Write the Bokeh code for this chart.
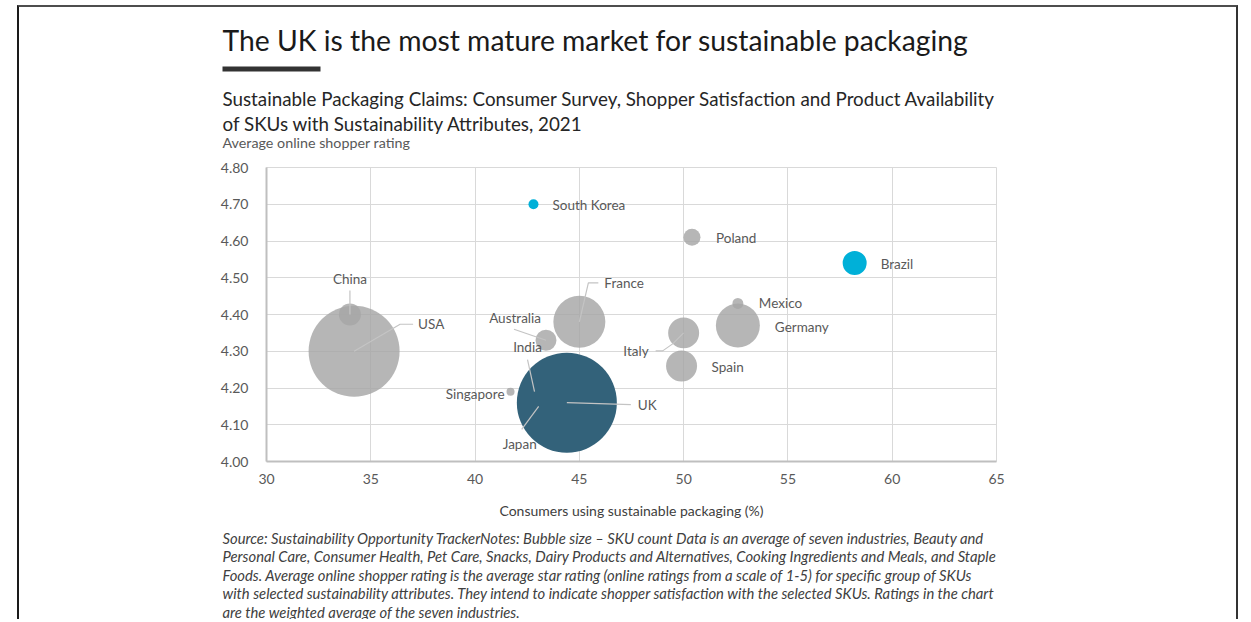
from bokeh.plotting import figure
from bokeh.layouts import column
from bokeh.models import (Label, Range1d, ColumnDataSource, FixedTicker,
                          NumeralTickFormatter, BoxAnnotation)
from bokeh.embed import file_html
from bokeh.resources import INLINE
from bokeh.core.properties import value
import math

# ---------------- data ----------------
countries = ["USA", "China", "France", "Germany", "Mexico", "Italy", "Spain",
             "Australia", "Poland", "Brazil", "South Korea", "Singapore",
             "India", "Japan", "UK"]
consumers_pct = [34.2, 34.0, 45.0, 52.6, 52.6, 50.0, 49.9,
                 43.4, 50.4, 58.2, 42.8, 41.7,
                 42.85, 43.05, 44.4]
shopper_rating = [4.30, 4.40, 4.38, 4.37, 4.43, 4.35, 4.26,
                  4.33, 4.61, 4.54, 4.70, 4.19,
                  4.19, 4.15, 4.16]
sku_count = [2070, 121, 676, 484, 30, 240, 240,
             110, 72, 144, 25, 16,
             60, 60, 2500]
x_ticks = [30, 35, 40, 45, 50, 55, 60, 65]
y_ticks = [4.0, 4.1, 4.2, 4.3, 4.4, 4.5, 4.6, 4.7, 4.8]

title = "The UK is the most mature market for sustainable packaging"
subtitle = ["Sustainable Packaging Claims: Consumer Survey, Shopper Satisfaction and Product Availability",
            "of SKUs with Sustainability Attributes, 2021"]
y_title = "Average online shopper rating"
x_title = "Consumers using sustainable packaging (%)"
notes = [
    "Source: Sustainability Opportunity TrackerNotes: Bubble size \u2013 SKU count Data is an average of seven industries, Beauty and",
    "Personal Care, Consumer Health, Pet Care, Snacks, Dairy Products and Alternatives, Cooking Ingredients and Meals, and Staple",
    "Foods. Average online shopper rating is the average star rating (online ratings from a scale of 1-5) for specific group of SKUs",
    "with selected sustainability attributes. They intend to indicate shopper satisfaction with the selected SKUs. Ratings in the chart",
    "are the weighted average of the seven industries.",
]

# ---------------- styling / layout ----------------
GREY = "#a6a6a6"
TEAL = "#33627a"
CYAN = "#00b0d8"
colour_of = {"UK": TEAL, "Brazil": CYAN, "South Korea": CYAN}
alpha_of = {"UK": 1.0, "Brazil": 1.0, "South Korea": 1.0}

label_style = {
    "USA": (64, -27, "left"), "China": (0, -36, "center"), "France": (25, -39, "left"),
    "Germany": (37, 1, "left"), "Mexico": (21, 0, "left"), "Italy": (-35, 18, "right"),
    "Spain": (30, 1, "left"), "Australia": (-5, -22, "right"), "Poland": (24, 1, "left"),
    "Brazil": (26, 1, "left"), "South Korea": (19, 1, "left"), "Singapore": (-6, 2, "right"),
    "India": (-7, -45, "center"), "Japan": (-19, 38, "center"), "UK": (71, 2, "left"),
}
leaders = {
    "USA": [(0, 0), (46, -27), (59, -27)],
    "China": [(0, 0), (0, -24)],
    "France": [(0, 0), (9, -39), (19, -39)],
    "Australia": [(0, 0), (-32, -11)],
    "Italy": [(0, 0), (-11, 11), (-21, 18), (-28, 18)],
    "India": [(0, 0), (-7, -32)],
    "Japan": [(0, 0), (-17, 23)],
    "UK": [(0, 0), (64, 2)],
}

FRAME_W, FRAME_H = 730, 294
X0, X1 = 30, 65
Y0, Y1 = 4.0, 4.8
px_x = FRAME_W / (X1 - X0)
px_y = FRAME_H / (Y1 - Y0)
W = 1217
CL = 19            # page x of content left
HEAD_T, HEAD_B = 7, 160
CHART_B = 525
FOOT_B = 619

FONT = "Lato"


def text_panel(top, bottom):
    f = figure(width=W, height=bottom - top, output_backend="svg", toolbar_location=None,
               x_range=Range1d(CL, CL + W), y_range=Range1d(bottom, top),
               x_axis_location=None, y_axis_location=None,
               min_border=0, outline_line_color=None, frame_align=False)
    f.grid.visible = False
    return f


def add_text(f, txt, X, Y, size, color, style="normal"):
    f.add_layout(Label(x=X, y=Y, text=txt, text_font=FONT, text_font_size=size,
                       text_color=color, text_font_style=style,
                       text_baseline="middle", text_align="left"))


# ---- header ----
head = text_panel(HEAD_T, HEAD_B)
add_text(head, title, 222, 39, "28.3px", "#1a1a1a")
head.add_layout(BoxAnnotation(left=222, right=320, top=66, bottom=71,
                              fill_color="#333333", fill_alpha=1, line_color=None))
add_text(head, subtitle[0], 222, 98, "18.8px", "#262626")
add_text(head, subtitle[1], 222, 123, "18.8px", "#262626")
add_text(head, y_title, 222, 142, "14.3px", "#595959")

# ---- chart ----
p = figure(width=W, height=CHART_B - HEAD_B, output_backend="svg", toolbar_location=None,
           x_range=Range1d(X0, X1), y_range=Range1d(Y0, Y1),
           frame_width=FRAME_W, frame_height=FRAME_H,
           min_border_left=247, min_border_top=7,
           min_border_right=240, min_border_bottom=64, frame_align=False)
p.outline_line_color = "#d9d9d9"
p.outline_line_width = 1

for ax in (p.xaxis[0], p.yaxis[0]):
    ax.axis_line_color = "#bfbfbf"
    ax.axis_line_width = 2
    ax.major_tick_line_color = None
    ax.minor_tick_line_color = None
    ax.major_label_text_font = FONT
    ax.major_label_text_font_size = "14px"
    ax.major_label_text_color = "#595959"

p.xaxis.ticker = FixedTicker(ticks=x_ticks)
p.yaxis.ticker = FixedTicker(ticks=y_ticks)
p.yaxis.formatter = NumeralTickFormatter(format="0.00")
p.xaxis.major_label_standoff = 6
p.yaxis.major_label_standoff = 12
p.xaxis.axis_label = x_title
p.xaxis.axis_label_text_font = FONT
p.xaxis.axis_label_text_font_style = "normal"
p.xaxis.axis_label_text_font_size = "14px"
p.xaxis.axis_label_text_color = "#404040"
p.xaxis.axis_label_standoff = 15

p.xgrid.grid_line_color = "#d9d9d9"
p.ygrid.grid_line_color = "#d9d9d9"

src = ColumnDataSource(dict(
    x=consumers_pct, y=shopper_rating, name=countries,
    size=[2 * math.sqrt(v) for v in sku_count],
    color=[colour_of.get(c, GREY) for c in countries],
    alpha=[alpha_of.get(c, 0.82) for c in countries],
))
p.scatter("x", "y", size="size", source=src, fill_color="color",
          fill_alpha="alpha", line_color=None)

xs, ys = [], []
for c, x, y in zip(countries, consumers_pct, shopper_rating):
    if c in leaders:
        xs.append([x + dx / px_x for dx, dy in leaders[c]])
        ys.append([y - dy / px_y for dx, dy in leaders[c]])
p.multi_line(xs, ys, line_color="#c4c4c4", line_width=1.2)

lab = ColumnDataSource(dict(
    x=consumers_pct, y=shopper_rating, text=countries,
    dx=[label_style[c][0] for c in countries],
    dy=[label_style[c][1] for c in countries],
    align=[label_style[c][2] for c in countries],
))
p.text("x", "y", text="text", source=lab, x_offset="dx", y_offset="dy",
       text_align="align", text_baseline="middle", text_font=value(FONT),
       text_font_size="13.5px", text_color="#595959")

# ---- footer ----
foot = text_panel(CHART_B, FOOT_B)
for i, line in enumerate(notes):
    add_text(foot, line, 222, 537 + i * 18.5, "14.8px", "#404040", style="italic")

layout = column(head, p, foot, spacing=0,
                styles={"margin-left": "17px", "margin-top": "5px",
                        "border-left": "2px solid #1a1a1a",
                        "border-right": "2px solid #333333",
                        "border-top": "2px solid #4d4d4d"})

open("out.html", "w").write(file_html(layout, INLINE))
